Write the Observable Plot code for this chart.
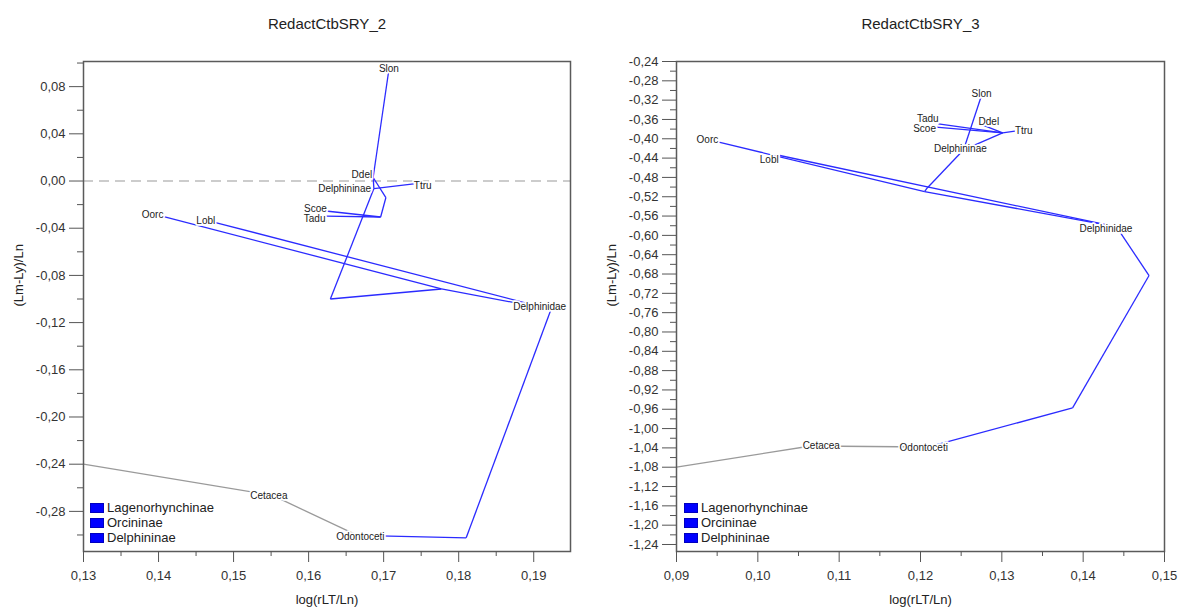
<!DOCTYPE html>
<html>
<head>
<meta charset="utf-8">
<script src="https://cdn.jsdelivr.net/npm/d3@7"></script>
<script src="https://cdn.jsdelivr.net/npm/@observablehq/plot@0.6"></script>
<style>
  html, body { margin: 0; padding: 0; background: #fff; }
  #wrap { display: flex; width: 1184px; height: 611px; font-family: "Liberation Sans", Arial, sans-serif; }
  .panel { position: relative; width: 592px; height: 611px; }
  .legend { position: absolute; font-size: 13px; color: #222; line-height: 15px; }
  .legend .row { display: flex; align-items: center; height: 15px; }
  .legend .sw { width: 14px; height: 10px; background: #0000ff; margin-right: 3px; box-sizing: border-box; border: 1px solid #0000c0; }
</style>
</head>
<body>
<div id="wrap"></div>
<script>
// ---------- Data: RedactCtbSRY_2 ----------
const leftNodeNames = ["root","Cetacea","Odontoceti","U","Delphinidae","Lobl","A","Oorc","B","Delphininae","Ddel","Slon","Ttru","J","K","Scoe","Tadu"];
const leftNodeX = [0.13,0.1552,0.1665,0.1810,0.1923,0.1476,0.1777,0.1407,0.1629,0.1687,0.1686,0.1707,0.1740,0.1703,0.1696,0.1623,0.1623];
const leftNodeY = [-0.24,-0.2665,-0.3004,-0.3024,-0.1089,-0.0352,-0.0915,-0.0301,-0.1000,-0.0064,0.0030,0.0945,-0.0025,-0.0140,-0.0305,-0.0254,-0.0297];
const leftGrayEdges = [["root","Cetacea"],["Cetacea","Odontoceti"]];
const leftBlueEdges = [["Odontoceti","U"],["U","Delphinidae"],["Delphinidae","Lobl"],["Delphinidae","A"],["A","Oorc"],["A","B"],["B","Delphininae"],["Delphininae","Ddel"],["Ddel","Slon"],["Delphininae","Ttru"],["Ddel","J"],["J","K"],["K","Scoe"],["K","Tadu"]];
const leftLabelText = ["Slon","Ddel","Delphininae","Ttru","Scoe","Tadu","Oorc","Lobl","Delphinidae","Cetacea","Odontoceti"];
const leftLabelX = [0.1707,0.1671,0.1648,0.1752,0.1609,0.1608,0.1392,0.1463,0.1908,0.1547,0.1669];
const leftLabelY = [0.0953,0.0055,-0.0064,-0.0038,-0.0236,-0.0316,-0.0284,-0.0335,-0.1064,-0.2665,-0.3013];
const leftXTicks = [0.13,0.14,0.15,0.16,0.17,0.18,0.19];
const leftXMinor = [0.135,0.145,0.155,0.165,0.175,0.185];
const leftYTicks = [0.08,0.04,0.00,-0.04,-0.08,-0.12,-0.16,-0.20,-0.24,-0.28];
const leftYMinor = [0.10,0.06,0.02,-0.02,-0.06,-0.10,-0.14,-0.18,-0.22,-0.26,-0.30];

// ---------- Data: RedactCtbSRY_3 ----------
const rightNodeNames = ["root","Cetacea","Odontoceti","V2","V1","Delphinidae","Lobl","A","Oorc","B","Delphininae","Slon","K","Ttru","Ddel","Scoe","Tadu"];
const rightNodeX = [0.09,0.1065,0.1210,0.1387,0.1481,0.1441,0.1027,0.1205,0.0952,0.1208,0.1253,0.1275,0.1301,0.1316,0.1276,0.1219,0.1222];
const rightNodeY = [-1.08,-1.0361,-1.0381,-0.957,-0.6831,-0.5826,-0.4346,-0.5092,-0.4071,-0.5023,-0.4228,-0.3104,-0.3876,-0.3843,-0.3711,-0.376,-0.369];
const rightGrayEdges = [["root","Cetacea"],["Cetacea","Odontoceti"]];
const rightBlueEdges = [["Odontoceti","V2"],["V2","V1"],["V1","Delphinidae"],["Delphinidae","Lobl"],["Delphinidae","A"],["A","Oorc"],["A","B"],["B","Delphininae"],["Delphininae","Slon"],["Delphininae","K"],["K","Ttru"],["K","Ddel"],["K","Scoe"],["K","Tadu"]];
const rightLabelText = ["Slon","Tadu","Scoe","Ddel","Ttru","Delphininae","Oorc","Lobl","Delphinidae","Cetacea","Odontoceti"];
const rightLabelX = [0.1275,0.1209,0.1205,0.1284,0.1327,0.1249,0.0938,0.1014,0.1428,0.1078,0.1204];
const rightLabelY = [-0.3063,-0.3590,-0.3795,-0.3642,-0.3829,-0.4201,-0.4015,-0.4429,-0.5858,-1.035,-1.0392];
const rightXTicks = [0.09,0.10,0.11,0.12,0.13,0.14,0.15];
const rightXMinor = [0.095,0.105,0.115,0.125,0.135,0.145];
const rightYTicks = [-0.24,-0.28,-0.32,-0.36,-0.40,-0.44,-0.48,-0.52,-0.56,-0.60,-0.64,-0.68,-0.72,-0.76,-0.80,-0.84,-0.88,-0.92,-0.96,-1.00,-1.04,-1.08,-1.12,-1.16,-1.20,-1.24];
const rightYMinor = [-0.26,-0.30,-0.34,-0.38,-0.42,-0.46,-0.50,-0.54,-0.58,-0.62,-0.66,-0.70,-0.74,-0.78,-0.82,-0.86,-0.90,-0.94,-0.98,-1.02,-1.06,-1.10,-1.14,-1.18,-1.22];

const legendNames = ["Lagenorhynchinae","Orcininae","Delphininae"];
const titles = ["RedactCtbSRY_2","RedactCtbSRY_3"];
const xLabel = "log(rLT/Ln)";
const yLabel = "(Lm-Ly)/Ln";

const fmt = d => d.toFixed(2).replace(".", ",");
const FONT = "'Liberation Sans', Arial, sans-serif";

function panel(cfg) {
  const idx = new Map(cfg.names.map((n, i) => [n, i]));
  const nx = n => cfg.nx[idx.get(n)], ny = n => cfg.ny[idx.get(n)];
  const labels = cfg.lt.map((t, i) => ({t, x: cfg.lx[i], y: cfg.ly[i]}));
  const marks = [];
  if (cfg.zero) marks.push(Plot.ruleY([0], {stroke: "#9a9a9a", strokeWidth: 1.2, strokeDasharray: "10,6"}));
  marks.push(
    Plot.link(cfg.gray, {x1: d => nx(d[0]), y1: d => ny(d[0]), x2: d => nx(d[1]), y2: d => ny(d[1]), stroke: "#9a9a9a", strokeWidth: 1.3}),
    Plot.link(cfg.blue, {x1: d => nx(d[0]), y1: d => ny(d[0]), x2: d => nx(d[1]), y2: d => ny(d[1]), stroke: "#2b2bff", strokeWidth: 1.3}),
    Plot.text(labels, {x: "x", y: "y", text: "t", fontSize: 10, fill: "#222", stroke: "white", strokeWidth: 3.5, paintOrder: "stroke"}),
    Plot.frame({stroke: "#5a5a5a", strokeWidth: 1.5}),
    Plot.axisX({ticks: cfg.xt, tickSize: 11, tickPadding: 8, tickFormat: fmt, stroke: "#555", fill: "#333", fontSize: 13, label: null}),
    Plot.axisX({ticks: cfg.xm, tickSize: 5, tickFormat: () => "", stroke: "#555", label: null}),
    Plot.axisY({ticks: cfg.yt, tickSize: 14, tickPadding: 4, tickFormat: fmt, stroke: "#555", fill: "#333", fontSize: 13, label: null}),
    Plot.axisY({ticks: cfg.ym, tickSize: 6, tickFormat: () => "", stroke: "#555", label: null}),
    Plot.text([cfg.title], {text: d => d, frameAnchor: "top", dy: -43, fontSize: 15, fill: "#222"}),
    Plot.text([xLabel], {text: d => d, frameAnchor: "bottom", dy: 52, fontSize: 13, fill: "#222"}),
    Plot.text([yLabel], {text: d => d, frameAnchor: "left", rotate: -90, dx: -65, fontSize: 13, fill: "#222"})
  );
  return Plot.plot({
    width: 592, height: 611,
    marginLeft: cfg.ml, marginRight: cfg.mr, marginTop: 61, marginBottom: 60,
    x: {domain: cfg.xd, label: null},
    y: {domain: cfg.yd, label: null},
    style: {fontFamily: FONT, fontSize: "13px", background: "white", color: "#333"},
    marks
  });
}

function legend(left, top) {
  const el = document.createElement("div");
  el.className = "legend";
  el.style.left = left + "px";
  el.style.top = top + "px";
  for (const n of legendNames) {
    const r = document.createElement("div");
    r.className = "row";
    const s = document.createElement("span"); s.className = "sw";
    const t = document.createElement("span"); t.textContent = n;
    r.append(s, t); el.append(r);
  }
  return el;
}

const wrap = document.getElementById("wrap");
const cfgs = [
  {names: leftNodeNames, nx: leftNodeX, ny: leftNodeY, gray: leftGrayEdges, blue: leftBlueEdges,
   lt: leftLabelText, lx: leftLabelX, ly: leftLabelY, xt: leftXTicks, xm: leftXMinor, yt: leftYTicks, ym: leftYMinor,
   xd: [0.13, 0.1949], yd: [-0.314, 0.1013], ml: 83, mr: 22, zero: true, title: titles[0], lg: [90, 500]},
  {names: rightNodeNames, nx: rightNodeX, ny: rightNodeY, gray: rightGrayEdges, blue: rightBlueEdges,
   lt: rightLabelText, lx: rightLabelX, ly: rightLabelY, xt: rightXTicks, xm: rightXMinor, yt: rightYTicks, ym: rightYMinor,
   xd: [0.09, 0.15], yd: [-1.2545, -0.24], ml: 84, mr: 20, zero: false, title: titles[1], lg: [92, 500]}
];
for (const c of cfgs) {
  const p = document.createElement("div");
  p.className = "panel";
  p.append(panel(c));
  p.append(legend(c.lg[0], c.lg[1]));
  wrap.append(p);
}
</script>
</body>
</html>
